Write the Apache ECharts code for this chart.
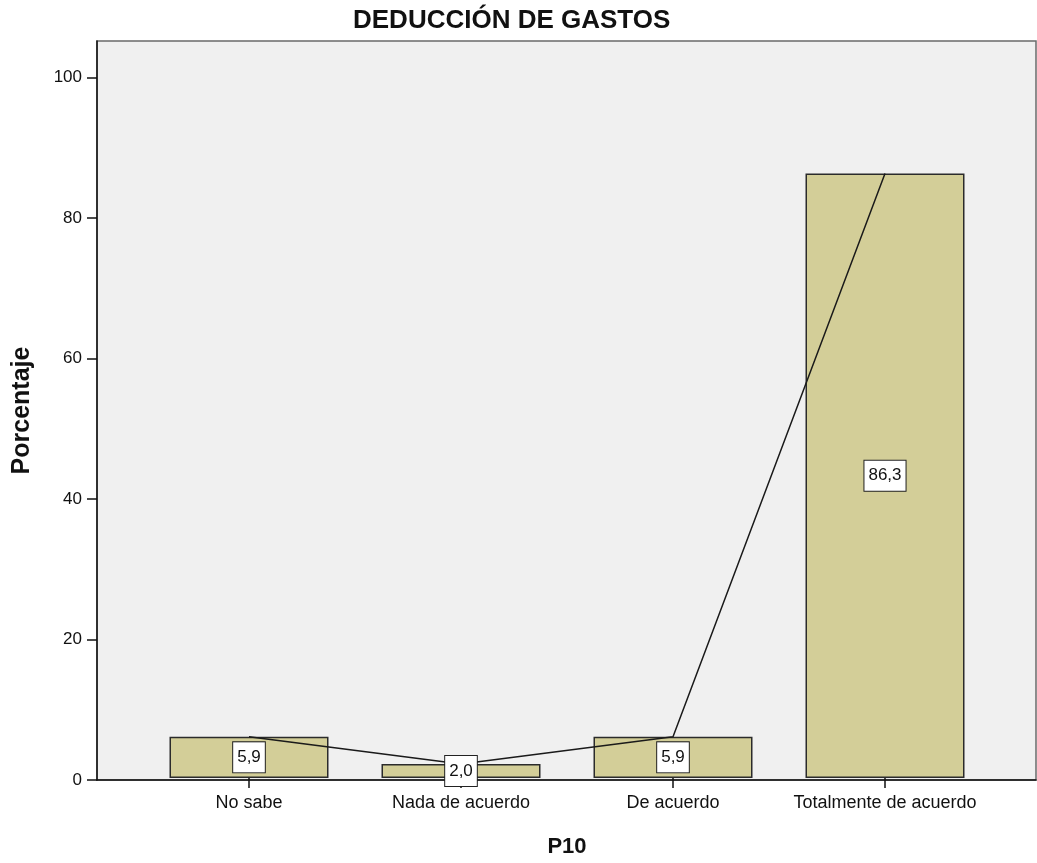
<!DOCTYPE html>
<html>
<head>
<meta charset="utf-8">
<script src="https://cdn.jsdelivr.net/npm/echarts@6/dist/echarts.min.js"></script>
<style>
  html, body { margin: 0; padding: 0; background: #fff; }
  #chart { width: 1037px; height: 863px; }
</style>
</head>
<body>
<div id="chart"></div>
<script>
// datos del grafico
var categories = ['No sabe', 'Nada de acuerdo', 'De acuerdo', 'Totalmente de acuerdo'];
var percentages = [5.9, 2.0, 5.9, 86.3];
var yTicks = [0, 20, 40, 60, 80, 100];

var FONT = '"Liberation Sans", Arial, sans-serif';
var yMax = 105.2;

var chart = echarts.init(document.getElementById('chart'));

var option = {
  animation: false,
  backgroundColor: '#fff',
  title: {
    text: 'DEDUCCIÓN DE GASTOS',
    left: 348,
    top: 3,
    textStyle: { fontFamily: FONT, fontSize: 26, fontWeight: 'bold', color: '#111' }
  },
  grid: [
    // marco del area de trazado
    { left: 97, right: 1, top: 41, bottom: 83, show: true, backgroundColor: '#f0f0f0', borderColor: '#6a6a6a', borderWidth: 1.5 },
    // area de las barras
    { left: 143, right: 46, top: 41, bottom: 83 }
  ],
  xAxis: [
    {
      gridIndex: 0, type: 'value', min: 0, max: 1,
      axisLine: { show: true, lineStyle: { color: '#111', width: 1.5 } },
      axisTick: { show: false }, axisLabel: { show: false }, splitLine: { show: false }
    },
    {
      gridIndex: 1, type: 'category', data: categories,
      axisLine: { show: false },
      axisTick: { show: true, alignWithLabel: true, length: 10, lineStyle: { color: '#111', width: 1.5 } },
      axisLabel: { fontFamily: FONT, fontSize: 18, color: '#111', margin: 16, interval: 0 },
      name: 'P10', nameLocation: 'middle', nameGap: 58,
      nameTextStyle: { fontFamily: FONT, fontSize: 22, fontWeight: 'bold', color: '#111' }
    }
  ],
  yAxis: [
    {
      gridIndex: 0, type: 'value', min: 0, max: yMax, interval: 20,
      axisLine: { show: true, lineStyle: { color: '#111', width: 1.5 } },
      axisTick: { show: true, length: 10, customValues: yTicks, lineStyle: { color: '#111', width: 1.5 } },
      axisLabel: { fontFamily: FONT, fontSize: 17, color: '#111', margin: 15, customValues: yTicks },
      splitLine: { show: false },
      name: 'Porcentaje', nameLocation: 'middle', nameGap: 62,
      nameTextStyle: { fontFamily: FONT, fontSize: 25, fontWeight: 'bold', color: '#111' }
    },
    {
      gridIndex: 1, type: 'value', min: 0, max: yMax, show: false
    }
  ],
  series: [
    {
      type: 'bar', xAxisIndex: 1, yAxisIndex: 1, data: percentages,
      barWidth: '75%', z: 2,
      itemStyle: { color: '#d3ce98', borderColor: '#2b2b2b', borderWidth: 1.5 }
    },
    {
      type: 'line', xAxisIndex: 1, yAxisIndex: 1, data: percentages,
      symbol: 'none', z: 3,
      lineStyle: { color: '#1a1a1a', width: 1.5 }
    },
    {
      // etiquetas con recuadro, por encima de la linea
      type: 'bar', xAxisIndex: 1, yAxisIndex: 1, data: percentages,
      barWidth: '75%', barGap: '-100%', z: 4,
      itemStyle: { color: 'rgba(0,0,0,0)' },
      label: {
        show: true, position: 'inside',
        formatter: function (p) { return p.value.toFixed(1).replace('.', ','); },
        fontFamily: FONT, fontSize: 17, color: '#111',
        backgroundColor: '#fff', borderColor: '#222', borderWidth: 1,
        padding: [7, 4, 6, 4]
      }
    }
  ]
};

chart.setOption(option);
</script>
</body>
</html>
